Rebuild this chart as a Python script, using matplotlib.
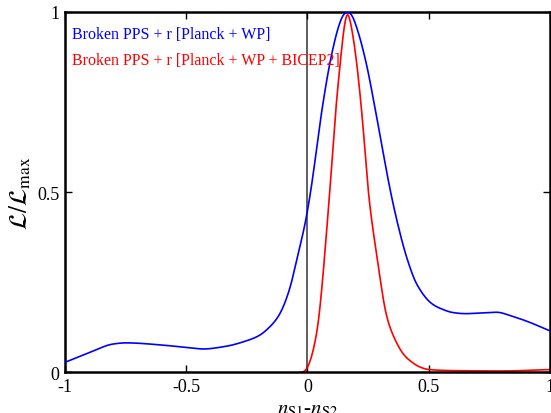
import matplotlib
matplotlib.use("Agg")
import matplotlib.pyplot as plt
import numpy as np

x_blue = [-1.0, -0.9, -0.8, -0.75, -0.6, -0.5, -0.43, -0.34, -0.25, -0.2, -0.15, -0.116,
          -0.075, -0.041, -0.009, 0.014, 0.059, 0.096, 0.13, 0.148, 0.165, 0.182, 0.2,
          0.24, 0.285, 0.343, 0.374, 0.411, 0.452, 0.514, 0.55, 0.6, 0.65,
          0.72, 0.78, 0.84, 0.92, 1.0]
y_blue = [0.028, 0.055, 0.079, 0.082, 0.076, 0.069, 0.065, 0.072, 0.088, 0.102, 0.13, 0.16,
          0.228, 0.322, 0.415, 0.505, 0.725, 0.87, 0.963, 0.992, 1.0, 0.992, 0.963,
          0.865, 0.71, 0.5, 0.407, 0.315, 0.243, 0.19, 0.177, 0.166, 0.163,
          0.165, 0.167, 0.157, 0.138, 0.115]

x_red = [-0.03, -0.014, 0.004, 0.025, 0.045, 0.059, 0.071, 0.082, 0.093, 0.117, 0.137,
         0.152, 0.165, 0.18, 0.201, 0.229, 0.251, 0.288, 0.326, 0.35, 0.4, 0.432,
         0.46, 0.5, 0.6, 0.8, 1.0]
y_red = [0.0, 0.002, 0.019, 0.065, 0.139, 0.231, 0.324, 0.417, 0.509, 0.731, 0.87,
         0.963, 1.0, 0.963, 0.87, 0.685, 0.5, 0.315, 0.157, 0.108, 0.047, 0.028,
         0.016, 0.008, 0.005, 0.004, 0.008]

label_blue = "Broken PPS + r [Planck + WP]"
label_red = "Broken PPS + r [Planck + WP + BICEP2]"

plt.rcParams['font.family'] = ['Liberation Serif', 'DejaVu Serif']
plt.rcParams['mathtext.fontset'] = 'stix'


def pchip(xs, ys, n=2001):
    x = np.asarray(xs, float); y = np.asarray(ys, float)
    h = np.diff(x); d = np.diff(y) / h
    m = np.zeros_like(y)
    for k in range(1, len(x) - 1):
        if d[k-1] * d[k] > 0:
            w1 = 2*h[k] + h[k-1]; w2 = h[k] + 2*h[k-1]
            m[k] = (w1 + w2) / (w1 / d[k-1] + w2 / d[k])
    m[0] = d[0]; m[-1] = d[-1]
    xx = np.linspace(x[0], x[-1], n)
    i = np.clip(np.searchsorted(x, xx) - 1, 0, len(x) - 2)
    t = (xx - x[i]) / h[i]
    h00 = 2*t**3 - 3*t**2 + 1; h10 = t**3 - 2*t**2 + t
    h01 = -2*t**3 + 3*t**2; h11 = t**3 - t**2
    yy = h00*y[i] + h10*h[i]*m[i] + h01*y[i+1] + h11*h[i]*m[i+1]
    # light smoothing to remove kinks
    dx = xx[1] - xx[0]
    sig = 0.006 / dx
    k = np.arange(-int(4*sig), int(4*sig) + 1)
    w = np.exp(-0.5 * (k / sig)**2); w /= w.sum()
    pad = len(k) // 2
    yp = np.concatenate([np.full(pad, yy[0]), yy, np.full(pad, yy[-1])])
    ys_ = np.convolve(yp, w, mode='valid')
    return xx, ys_


fig = plt.figure(figsize=(5.51, 4.14), dpi=100)
ax = fig.add_axes([0.118, 0.098, 0.880, 0.871])

bx, by = pchip(x_blue, y_blue)
rx, ry = pchip(x_red, y_red)
ax.axvline(0, color='#444444', lw=1.2, zorder=1)
ax.plot(bx, by, color='blue', lw=1.2, zorder=3)
ax.plot(rx, ry, color='red', lw=1.2, zorder=2)

ax.set_xlim(-1, 1)
ax.set_ylim(0, 1)
ax.set_xticks([-1, -0.5, 0, 0.5, 1])
ax.set_xticklabels(['-1', '-0.5', '0', '0.5', '1'])
ax.set_yticks([0, 0.5, 1])
ax.set_yticklabels(['0', '0.5', '1'])
ax.tick_params(direction='in', length=5, width=1, top=True, right=True, labelsize=13, pad=4)
for s in ax.spines.values():
    s.set_linewidth(1.8)

ax.text(0.014, 0.938, label_blue, transform=ax.transAxes, color='blue', fontsize=11.5, va='center')
ax.text(0.014, 0.866, label_red, transform=ax.transAxes, color='red', fontsize=11.5, va='center')

ax.set_xlabel(r'$n_{\rm S1}$-$n_{\rm S2}$', fontsize=15, labelpad=3)
ax.set_ylabel(r'$\mathcal{L}/\mathcal{L}_{\rm max}$', fontsize=18, labelpad=3)

fig.savefig('out.png', dpi=100)
